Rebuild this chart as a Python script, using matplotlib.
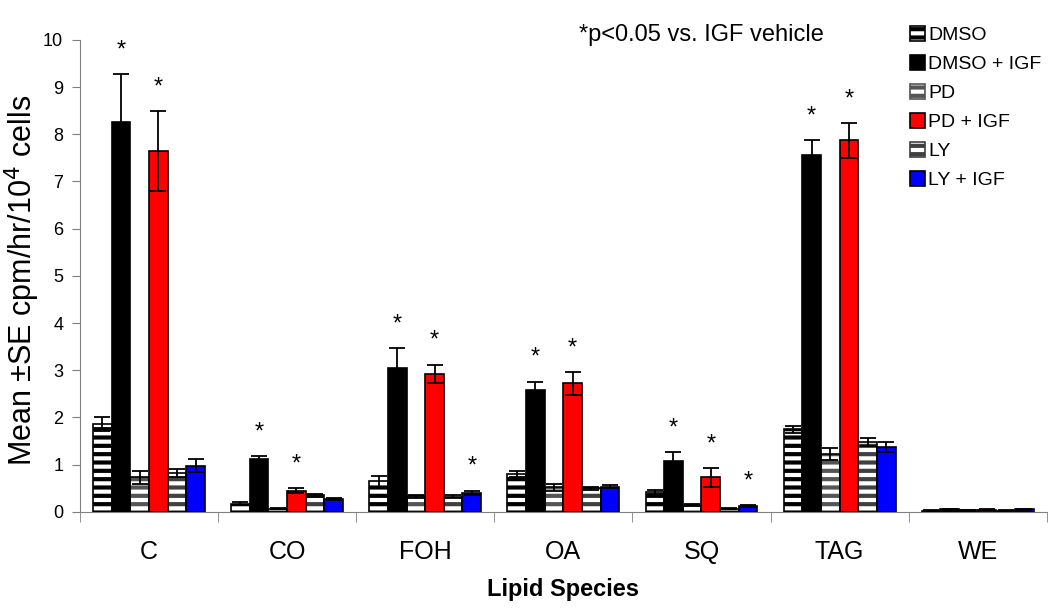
import numpy as np
import matplotlib.pyplot as plt
from matplotlib.patches import Patch

plt.rcParams['font.family'] = ['Liberation Sans', 'DejaVu Sans']
plt.rcParams['hatch.linewidth'] = 3.0

species = ['C', 'CO', 'FOH', 'OA', 'SQ', 'TAG', 'WE']
treatments = ['DMSO', 'DMSO + IGF', 'PD', 'PD + IGF', 'LY', 'LY + IGF']

dmso = [1.86, 0.17, 0.65, 0.80, 0.42, 1.75, 0.02]
dmso_igf = [8.26, 1.12, 3.05, 2.58, 1.08, 7.57, 0.05]
pd_ = [0.73, 0.07, 0.33, 0.52, 0.14, 1.23, 0.03]
pd_igf = [7.65, 0.45, 2.92, 2.72, 0.73, 7.87, 0.04]
ly = [0.82, 0.35, 0.32, 0.50, 0.07, 1.48, 0.02]
ly_igf = [0.98, 0.27, 0.40, 0.53, 0.13, 1.37, 0.05]

dmso_se = [0.15, 0.03, 0.12, 0.07, 0.04, 0.07, 0.01]
dmso_igf_se = [1.02, 0.07, 0.42, 0.18, 0.18, 0.30, 0.01]
pd_se = [0.13, 0.01, 0.03, 0.07, 0.02, 0.13, 0.01]
pd_igf_se = [0.85, 0.05, 0.20, 0.25, 0.20, 0.37, 0.01]
ly_se = [0.08, 0.03, 0.03, 0.03, 0.01, 0.08, 0.01]
ly_igf_se = [0.13, 0.02, 0.05, 0.03, 0.02, 0.10, 0.01]

# significance flags (*p<0.05 vs. IGF vehicle)
sig_dmso_igf = [1, 1, 1, 1, 1, 1, 0]
sig_pd_igf = [1, 1, 1, 1, 1, 1, 0]
sig_ly_igf = [0, 0, 1, 0, 1, 0, 0]

values = [dmso, dmso_igf, pd_, pd_igf, ly, ly_igf]
errors = [dmso_se, dmso_igf_se, pd_se, pd_igf_se, ly_se, ly_igf_se]
sigs = [None, sig_dmso_igf, None, sig_pd_igf, None, sig_ly_igf]

# (face, hatch colour, hatch) per treatment
styles = [
    ('white', 'black', '--'),
    ('black', None, None),
    ('white', '#555555', '--'),
    ('#ff0000', None, None),
    ('white', '#404040', '--'),
    ('#0000ff', None, None),
]

fig = plt.figure(figsize=(10.5, 6.13), dpi=100)
ax = fig.add_axes([0.076, 0.165, 0.921, 0.77])

x = np.arange(len(species))
width = 0.135
offsets = (np.arange(6) - 2.5) * width

for i in range(6):
    face, hcol, hatch = styles[i]
    pos = x + offsets[i]
    if hatch:
        ax.bar(pos, values[i], width, color=face, edgecolor=hcol,
               hatch=hatch, linewidth=0, zorder=2)
        ax.bar(pos, values[i], width, fill=False, edgecolor='black',
               linewidth=1.2, zorder=3)
    else:
        ax.bar(pos, values[i], width, color=face, edgecolor='black',
               linewidth=1.2, zorder=3)
    ax.errorbar(pos, values[i], yerr=errors[i], fmt='none', ecolor='black',
                elinewidth=1.3, capsize=6, capthick=1.3, zorder=4)
    if sigs[i] is not None:
        for j in range(len(species)):
            if sigs[i][j]:
                ax.text(pos[j], values[i][j] + errors[i][j] + 0.5, '*',
                        ha='center', va='center', fontsize=17)

ax.set_xlim(-0.5, len(species) - 0.5)
ax.set_ylim(0, 10)
ax.set_yticks(range(0, 11))
ax.tick_params(axis='y', labelsize=13, length=6, color='#808080', pad=6)
ax.set_xticks(x)
ax.set_xticklabels(species, fontsize=18)
ax.tick_params(axis='x', length=0, pad=20)
ax.set_xticks(np.arange(-0.5, len(species)), minor=True)
ax.tick_params(axis='x', which='minor', length=7, color='#808080')

for s in ['top', 'right']:
    ax.spines[s].set_visible(False)
for s in ['left', 'bottom']:
    ax.spines[s].set_color('#808080')

ax.set_ylabel('Mean \u00b1SE cpm/hr/10$^4$ cells', fontsize=22)
ax.yaxis.set_label_coords(-0.039, 0.49)
ax.set_xlabel('Lipid Species', fontsize=17, fontweight='bold', labelpad=10)

ax.text(0.643, 1.01, '*p<0.05 vs. IGF vehicle', transform=ax.transAxes,
        fontsize=17, ha='center', va='center')

handles = []
for i in range(6):
    face, hcol, hatch = styles[i]
    if hatch:
        handles.append(Patch(facecolor=face, edgecolor=hcol, hatch='--',
                             linewidth=1.2))
    else:
        handles.append(Patch(facecolor=face, edgecolor='black', linewidth=1.2))
ax.legend(handles, treatments, loc='upper left', bbox_to_anchor=(0.84, 1.066),
          frameon=False, fontsize=14, handlelength=0.8, handleheight=0.8,
          handletextpad=0.15, labelspacing=0.55)

fig.savefig('out.png', dpi=100)
